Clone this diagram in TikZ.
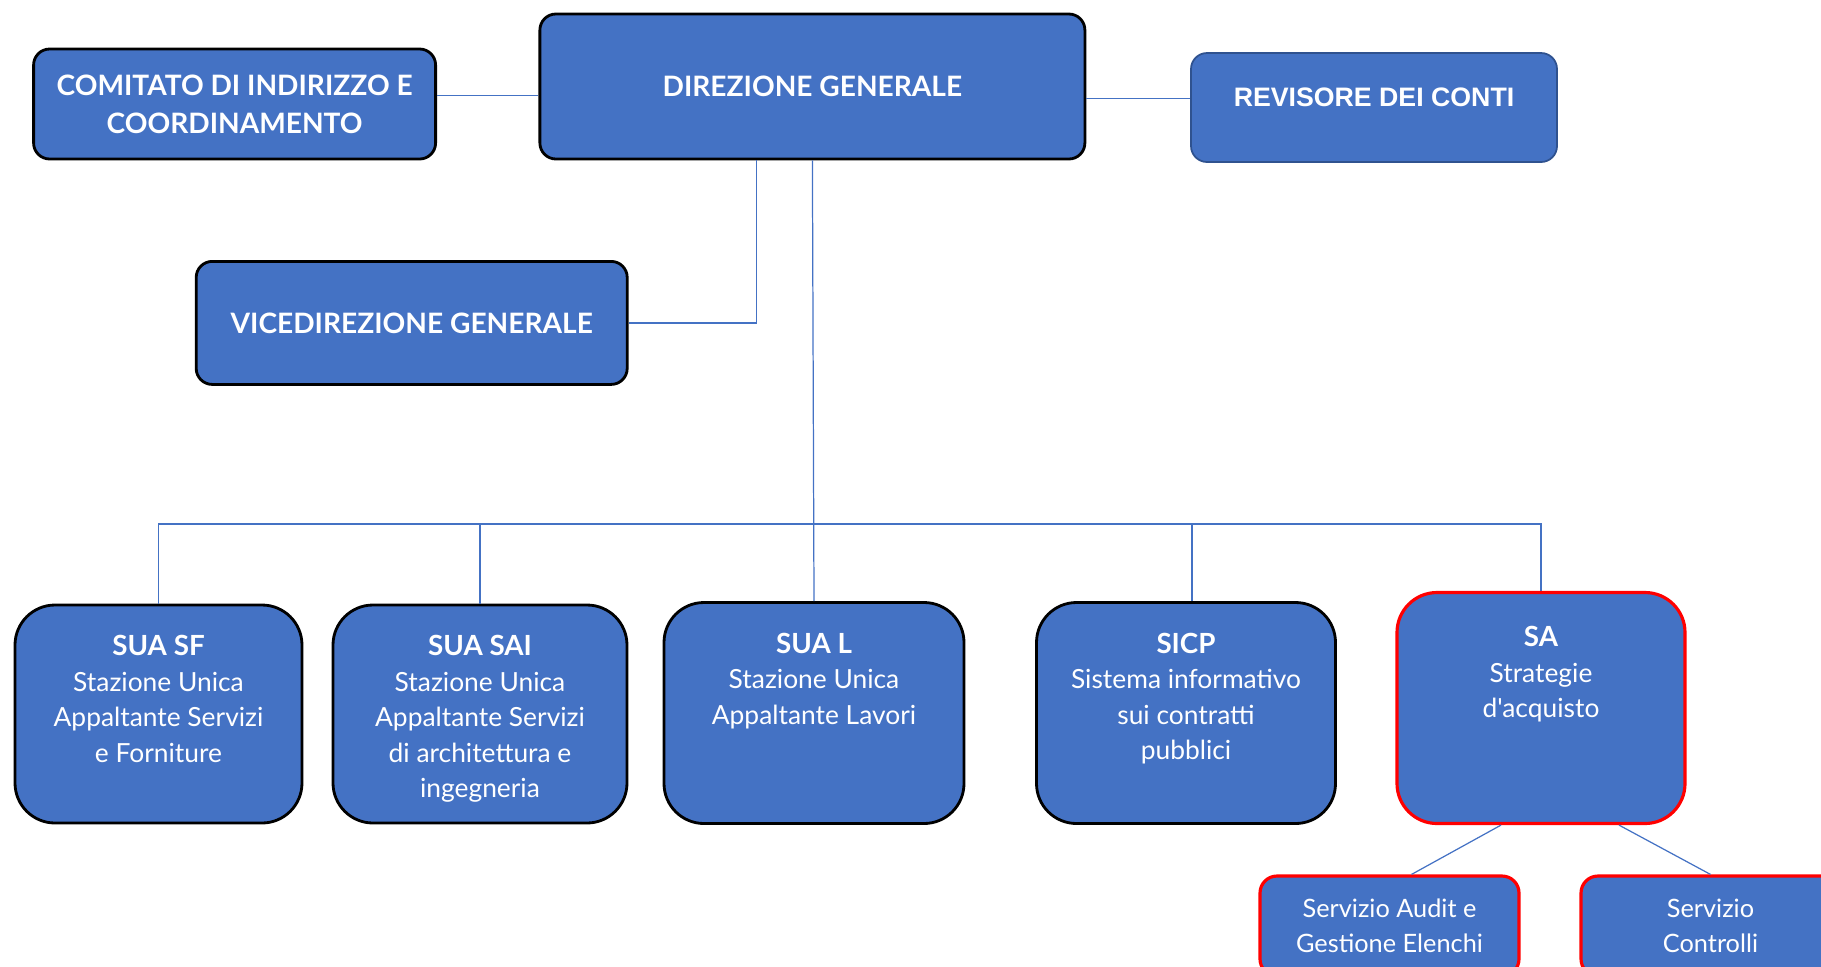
\documentclass[tikz,border=0pt]{standalone}
\usepackage{fontspec}
\setmainfont{Lato}[Ligatures=TeXOff]
\newfontfamily\revfont{Liberation Sans}
\usetikzlibrary{positioning}
\definecolor{offblue}{HTML}{4472C4}
\definecolor{revborder}{HTML}{2F528F}
\definecolor{sared}{HTML}{FF0000}

\begin{document}
\begin{tikzpicture}[
		>=stealth,
		unit/.style={draw, rounded corners=4mm, fill=offblue, line width=0.8pt, text=white, align=center},
		topunit/.style={unit, rounded corners=1.6mm, font=\bfseries\fontsize{8}{10.9}\selectfont},
		redunit/.style={unit, draw=sared, line width=0.9pt},
		utext/.style={text=white, align=center, inner sep=0pt, font=\fontsize{7.5}{10.1}\selectfont},
		link/.style={draw=offblue, line width=0.35pt},
	]
	\clip (0,0) rectangle (18.21,-9.66);
	\node[topunit, minimum width=4.02cm, minimum height=1.10cm] (cic) at (2.346,-1.04) {COMITATO DI INDIRIZZO E\\COORDINAMENTO};
	\node[topunit, minimum width=5.45cm, minimum height=1.45cm] (dg) at (8.124,-0.865) {DIREZIONE GENERALE};
	\node[topunit, draw=revborder, line width=0.5pt, minimum width=3.66cm, minimum height=1.09cm,
		font=\revfont\bfseries\fontsize{7.6}{9}\selectfont, text height=0.19cm, text depth=0.22cm] (rev) at (13.74,-1.075) {REVISORE DEI CONTI};
	\node[topunit, minimum width=4.31cm, minimum height=1.23cm] (vdg) at (4.117,-3.229) {VICEDIREZIONE GENERALE};

	\node[unit, minimum width=2.87cm, minimum height=2.18cm] (suasf) at (1.585,-7.14) {};
	\node[unit, minimum width=2.94cm, minimum height=2.18cm] (suasai) at (4.80,-7.14) {};
	\node[unit, minimum width=3.00cm, minimum height=2.21cm] (sual) at (8.14,-7.13) {};
	\node[unit, minimum width=2.99cm, minimum height=2.21cm] (sicp) at (11.86,-7.13) {};
	\node[redunit, minimum width=2.88cm, minimum height=2.31cm] (sa) at (15.41,-7.08) {};
	\node[redunit, rounded corners=1.7mm, minimum width=2.59cm, minimum height=1.0cm, font=\fontsize{7.2}{10.1}\selectfont] (audit) at (13.895,-9.26) {Servizio Audit e\\Gestione Elenchi};
	\node[redunit, rounded corners=1.7mm, minimum width=2.59cm, minimum height=1.0cm, font=\fontsize{7.2}{10.1}\selectfont] (ctrl) at (17.105,-9.26) {Servizio\\Controlli};

	\node[utext, below=0.31 of suasf.north] {{\bfseries\fontsize{7.9}{10.1}\selectfont SUA SF}\\Stazione Unica\\Appaltante Servizi\\e Forniture};
	\node[utext, below=0.31 of suasai.north] {{\bfseries\fontsize{7.9}{10.1}\selectfont SUA SAI}\\Stazione Unica\\Appaltante Servizi\\di architettura e\\ingegneria};
	\node[utext, below=0.31 of sual.north] {{\bfseries\fontsize{7.9}{10.1}\selectfont SUA L}\\Stazione Unica\\Appaltante Lavori};
	\node[utext, below=0.31 of sicp.north] {{\bfseries\fontsize{7.9}{10.1}\selectfont SICP}\\Sistema informativo\\sui contratti\\pubblici};
	\node[utext, below=0.35 of sa.north] {{\bfseries\fontsize{7.9}{10.1}\selectfont SA}\\Strategie\\d'acquisto};

	\coordinate (bus) at (0,-5.24);
	\draw[link] ([yshift=-0.87mm]dg.west) -- ([yshift=-0.87mm]dg.west -| cic.east);
	\draw[link] ([yshift=-1.2mm]dg.east) -- ([yshift=-1.2mm]dg.east -| rev.west);
	\draw[link] ([xshift=-5.6mm]dg.south) |- (vdg.east);
	\draw[link] (dg.south) -- (sual.north);
	\draw[link] (suasf.north) -- (suasf.north |- bus) -- (sa.north |- bus) -- (sa.north);
	\draw[link] (suasai.north) -- (suasai.north |- bus);
	\draw[link] ([xshift=0.6mm]sicp.north) -- ([xshift=0.6mm]sicp.north |- bus);
	\draw[link] ([xshift=-4mm]sa.south) -- ([xshift=2.2mm]audit.north);
	\draw[link] ([xshift=7.8mm]sa.south) -- (ctrl.north);
\end{tikzpicture}
\end{document}
